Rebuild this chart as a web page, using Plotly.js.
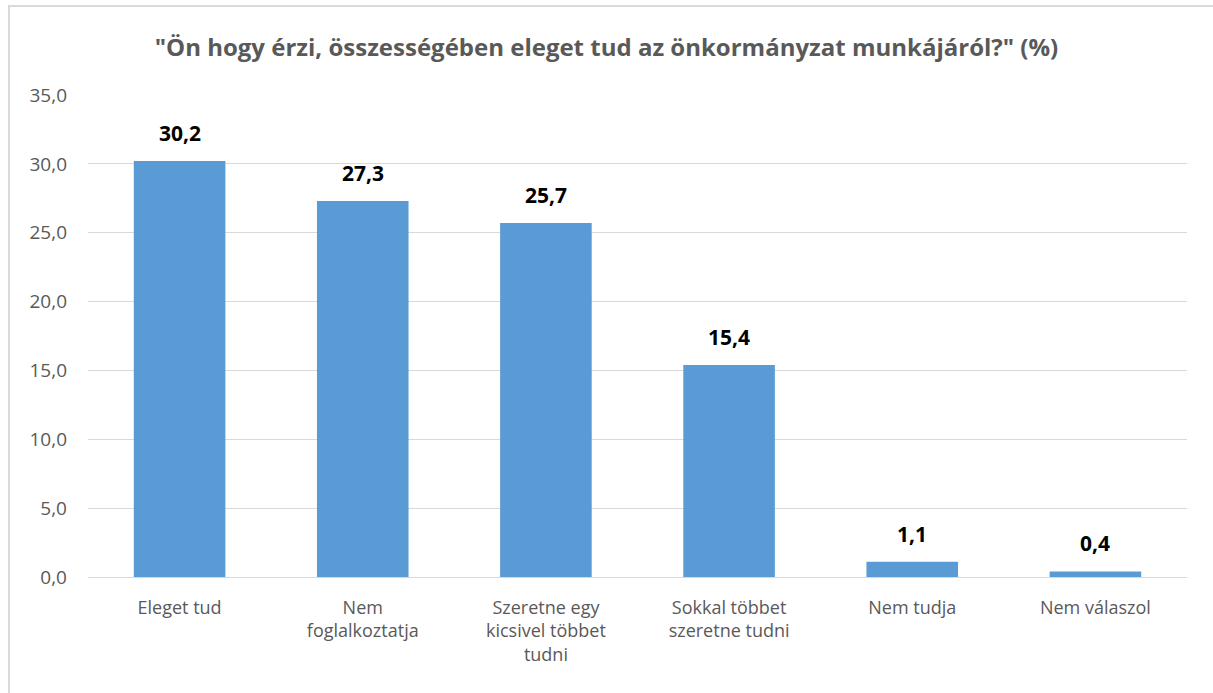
<!DOCTYPE html>
<html><head><meta charset="utf-8">
<script src="https://cdn.plot.ly/plotly-3.0.1.min.js"></script>
<style>
html,body{margin:0;padding:0;background:#fff;overflow:hidden;}
#chart{position:absolute;left:0;top:0;width:1213px;height:693px;}
#frame{position:absolute;left:8px;top:5px;width:1300px;height:800px;border-left:2px solid #d9d9d9;border-top:2px solid #d9d9d9;pointer-events:none;}
</style></head>
<body>
<div id="chart"></div>
<div id="frame"></div>
<script>
const categories = ["Eleget tud", "Nem<br>foglalkoztatja", "Szeretne egy<br>kicsivel többet<br>tudni", "Sokkal többet<br>szeretne tudni", "Nem tudja", "Nem válaszol"];
const values = [30.2, 27.3, 25.7, 15.4, 1.1, 0.4];
const valueLabels = ["30,2", "27,3", "25,7", "15,4", "1,1", "0,4"];
const tickVals = [0, 5, 10, 15, 20, 25, 30, 35];
const tickText = ["0,0", "5,0", "10,0", "15,0", "20,0", "25,0", "30,0", "35,0"];
const titleText = '"Ön hogy érzi, összességében eleget tud az önkormányzat munkájáról?" (%)';

const fontFam = "Open Sans, Noto Sans, sans-serif";

const trace = {
  type: "bar",
  x: categories,
  y: values,
  marker: {color: "#5b9bd5"},
  width: 0.5,
  hoverinfo: "none"
};

const annotations = categories.map((c, i) => ({
  x: c, y: values[i], xref: "x", yref: "y",
  text: "<b>" + valueLabels[i] + "</b>",
  showarrow: false, yanchor: "bottom", yshift: 12,
  font: {family: fontFam, size: 21, color: "#000000"}
}));

const layout = {
  width: 1213, height: 693,
  margin: {l: 88, r: 26, t: 95, b: 116},
  paper_bgcolor: "#ffffff", plot_bgcolor: "#ffffff",
  title: {text: "<b>" + titleText + "</b>", x: 0.5, xanchor: "center", y: 1 - 48/693, yanchor: "middle",
          font: {family: fontFam, size: 24, color: "#595959"}},
  xaxis: {tickfont: {family: fontFam, size: 18, color: "#595959"}, showline: false, ticks: "", ticklabelstandoff: 18, fixedrange: true},
  yaxis: {range: [0, 35], tickvals: tickVals, ticktext: tickText, showgrid: true, gridcolor: "#d9d9d9", gridwidth: 1,
          zeroline: true, zerolinecolor: "#d9d9d9", zerolinewidth: 1,
          tickfont: {family: fontFam, size: 19, color: "#595959"}, ticks: "", ticklabelstandoff: 20, fixedrange: true},
  annotations: annotations,
  showlegend: false,
  bargap: 0.5
};

Plotly.newPlot("chart", [trace], layout, {displayModeBar: false, staticPlot: true});
</script>
</body></html>
